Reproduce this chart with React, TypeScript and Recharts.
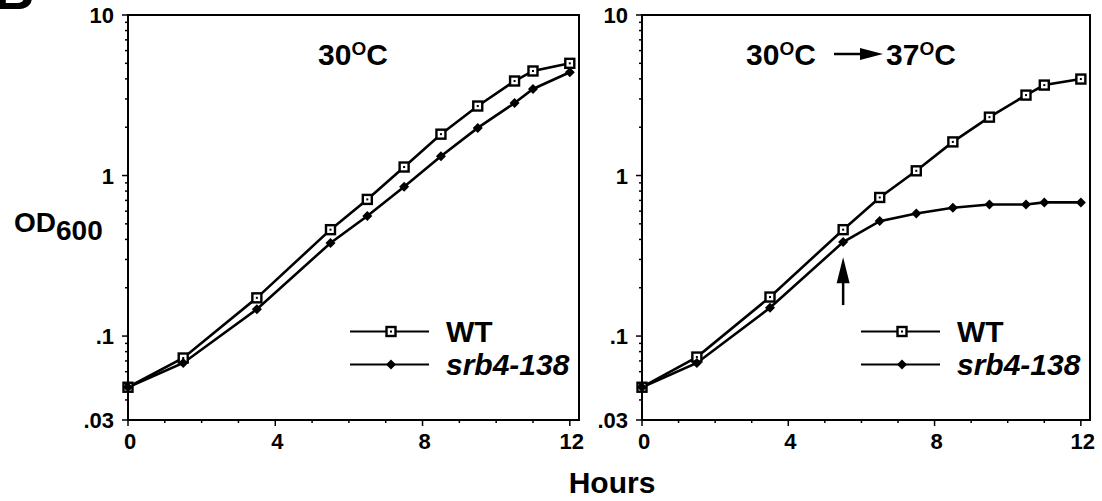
import { Legend, Line, LineChart, ReferenceArea, ReferenceLine, XAxis, YAxis } from "recharts";

const hours = [0, 1.5, 3.5, 5.5, 6.5, 7.5, 8.5, 9.5, 10.5, 11, 12];
const wt30 = [0.048, 0.073, 0.173, 0.46, 0.71, 1.13, 1.81, 2.71, 3.88, 4.48, 5.0];
const srb30 = [0.048, 0.068, 0.147, 0.38, 0.56, 0.85, 1.32, 1.98, 2.83, 3.46, 4.4];
const wt37 = [0.048, 0.074, 0.175, 0.46, 0.73, 1.07, 1.62, 2.31, 3.17, 3.66, 3.99];
const srb37 = [0.048, 0.068, 0.15, 0.385, 0.52, 0.58, 0.63, 0.66, 0.66, 0.68, 0.68];

const yTicks = [
  0.03, 0.04, 0.05, 0.06, 0.07, 0.08, 0.09, 0.1, 0.2, 0.3, 0.4, 0.5, 0.6, 0.7, 0.8, 0.9, 1, 2, 3, 4, 5, 6, 7,
  8, 9, 10,
];
const yLabels: Record<string, string> = { "0.03": ".03", "0.1": ".1", "1": "1", "10": "10" };
const xTicks = [0, 1, 2, 3, 4, 5, 6, 7, 8, 9, 10, 11, 12];
const xLabels = [0, 4, 8, 12];
const shiftAt = 5.5; // arrow in the 37C panel

const FONT = "'Liberation Sans', Arial, Helvetica, sans-serif";

function YTick(props: any) {
  const { x, y, payload } = props;
  const label = yLabels[String(payload.value)];
  return (
    <g>
      <line x1={x} x2={x - (label ? 6 : 3)} y1={y} y2={y} stroke="#000" strokeWidth={1.5} />
      {label && (
        <text x={x - 14} y={y + 8} textAnchor="end" fontFamily={FONT} fontWeight="bold" fontSize={22} fill="#000">
          {label}
        </text>
      )}
    </g>
  );
}

function XTick(props: any) {
  const { x, y, payload } = props;
  const major = xLabels.includes(payload.value);
  return (
    <g>
      <line x1={x} x2={x} y1={y} y2={y + (major ? 6 : 3)} stroke="#000" strokeWidth={1.5} />
      {major && (
        <text x={x + 2} y={y + 29} textAnchor="middle" fontFamily={FONT} fontWeight="bold" fontSize={22} fill="#000">
          {payload.value}
        </text>
      )}
    </g>
  );
}

function SquareDot(props: any) {
  const { cx, cy, index } = props;
  if (cx == null || cy == null) return <g key={`s${index}`} />;
  return (
    <g key={`s${index}`}>
      <rect x={cx - 4.5} y={cy - 4.5} width={9} height={9} fill="#fff" stroke="#000" strokeWidth={2.4} />
      <rect x={cx - 1} y={cy - 1} width={2} height={2} fill="#000" />
    </g>
  );
}

function DiamondDot(props: any) {
  const { cx, cy, index } = props;
  if (cx == null || cy == null) return <g key={`d${index}`} />;
  return <polygon key={`d${index}`} points={`${cx},${cy - 5} ${cx + 5},${cy} ${cx},${cy + 5} ${cx - 5},${cy}`} fill="#000" />;
}

function UpArrow(props: any) {
  const { x1, y1, x2, y2 } = props;
  const top = Math.min(y1, y2);
  const bottom = Math.max(y1, y2);
  return (
    <g>
      <line x1={x1} x2={x2} y1={bottom} y2={top + 20} stroke="#000" strokeWidth={2.5} />
      <polygon points={`${x1},${top} ${x1 + 6.5},${top + 26} ${x1 - 6.5},${top + 26}`} fill="#000" />
    </g>
  );
}

function LegendBox() {
  const rows = [
    { name: "WT", italic: false, Dot: SquareDot },
    { name: "srb4-138", italic: true, Dot: DiamondDot },
  ];
  return (
    <div style={{ fontFamily: FONT }}>
      {rows.map((r) => (
        <div key={r.name} style={{ display: "flex", alignItems: "center", height: 33 }}>
          <svg width={80} height={33}>
            <line x1={0} x2={79} y1={16.5} y2={16.5} stroke="#000" strokeWidth={2} />
            <r.Dot cx={41} cy={16.5} index={0} />
          </svg>
          <span
            style={{
              marginLeft: 16,
              fontSize: 30,
              fontWeight: "bold",
              fontStyle: r.italic ? "italic" : "normal",
              lineHeight: "33px",
              color: "#000",
            }}
          >
            {r.name}
          </span>
        </div>
      ))}
    </div>
  );
}

function Panel(props: {
  left: number;
  width: number;
  marginLeft: number;
  marginRight: number;
  wt: number[];
  srb: number[];
  legendLeft: number;
  arrow?: boolean;
}) {
  const data = hours.map((h, i) => ({ h, wt: props.wt[i], srb: props.srb[i] }));
  return (
    <div style={{ position: "absolute", left: props.left, top: 0 }}>
      <LineChart
        width={props.width}
        height={501}
        data={data}
        margin={{ top: 15, right: props.marginRight, bottom: 51, left: props.marginLeft }}
      >
        <ReferenceArea x1={0} x2={12.25} y1={0.03} y2={10} fill="none" stroke="#000" strokeWidth={2} />
        <XAxis
          dataKey="h"
          type="number"
          domain={[0, 12.25]}
          ticks={xTicks}
          interval={0}
          height={30}
          tickSize={0}
          tickMargin={0}
          tickLine={false}
          axisLine={{ stroke: "#000", strokeWidth: 2 }}
          tick={<XTick />}
        />
        <YAxis
          type="number"
          scale="log"
          domain={[0.03, 10]}
          ticks={yTicks}
          interval={0}
          width={60}
          tickSize={0}
          tickMargin={0}
          tickLine={false}
          axisLine={{ stroke: "#000", strokeWidth: 2 }}
          tick={<YTick />}
        />
        <Line
          dataKey="wt"
          name="WT"
          stroke="#000"
          strokeWidth={2.6}
          dot={(p: any) => <SquareDot {...p} />}
          isAnimationActive={false}
        />
        <Line
          dataKey="srb"
          name="srb4-138"
          stroke="#000"
          strokeWidth={2.6}
          dot={(p: any) => <DiamondDot {...p} />}
          isAnimationActive={false}
        />
        {props.arrow && (
          <ReferenceLine
            segment={[
              { x: shiftAt, y: 0.156 },
              { x: shiftAt, y: 0.31 },
            ]}
            shape={(p: any) => <UpArrow {...p} />}
          />
        )}
        <Legend
          layout="vertical"
          align="center"
          verticalAlign="middle"
          content={() => <LegendBox />}
          wrapperStyle={{ left: props.legendLeft, top: 315, width: 240 }}
        />
      </LineChart>
    </div>
  );
}

export default function App() {
  return (
    <div style={{ position: "absolute", left: 0, top: 0, width: 1102, height: 501, background: "#fff" }}>
      <Panel left={0} width={600} marginLeft={68} marginRight={21} wt={wt30} srb={srb30} legendLeft={350} />
      <Panel left={560} width={542} marginLeft={22} marginRight={12} wt={wt37} srb={srb37} legendLeft={301} arrow />
      <svg
        width={1102}
        height={501}
        style={{ position: "absolute", left: 0, top: 0, pointerEvents: "none" }}
        fontFamily={FONT}
        fontWeight="bold"
        fill="#000"
      >
        <text x={-6} y={9} fontSize={56}>
          B
        </text>
        <text x={14} y={232} fontSize={28}>
          OD
          <tspan dy={8}>600</tspan>
        </text>
        <text x={612} y={493} fontSize={30} textAnchor="middle">
          Hours
        </text>
        <text x={318} y={65} fontSize={30}>
          30
          <tspan fontSize={19} dy={-10}>
            O
          </tspan>
          <tspan dy={10}>C</tspan>
        </text>
        <text x={746} y={65} fontSize={30}>
          30
          <tspan fontSize={19} dy={-10}>
            O
          </tspan>
          <tspan dy={10}>C</tspan>
        </text>
        <line x1={834} x2={866} y1={54} y2={54} stroke="#000" strokeWidth={2.5} />
        <polygon points="860,48 883,54 860,60" fill="#000" />
        <text x={886} y={65} fontSize={30}>
          37
          <tspan fontSize={19} dy={-10}>
            O
          </tspan>
          <tspan dy={10}>C</tspan>
        </text>
      </svg>
    </div>
  );
}
